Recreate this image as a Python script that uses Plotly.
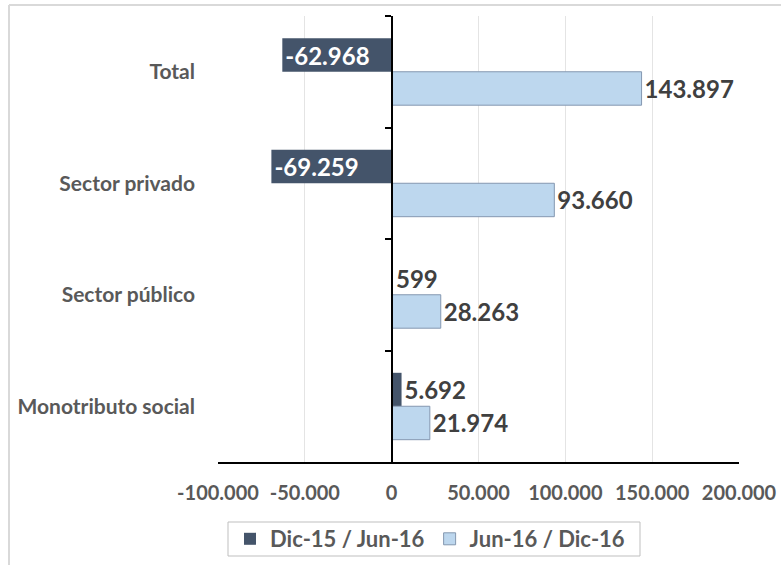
import plotly.graph_objects as go

categories = ["Total", "Sector privado", "Sector público", "Monotributo social"]
series1_name = "Dic-15 / Jun-16"
series1_values = [-62968, -69259, 599, 5692]
series2_name = "Jun-16 / Dic-16"
series2_values = [143897, 93660, 28263, 21974]
tick_values = [-100000, -50000, 0, 50000, 100000, 150000, 200000]
tick_labels = ["-100.000", "-50.000", "0", "50.000", "100.000", "150.000", "200.000"]


def fmt(v):
    s = f"{abs(v):,}".replace(",", ".")
    return ("-" if v < 0 else "") + s


FONT = "Lato"
GRAY = "#595959"
DARK = "#404040"

# plot-area geometry in pixels (for paper-coordinate decorations)
L, R, T, B = 218, 42, 16, 103
PW, PH = 781 - L - R, 565 - T - B


def px(xp):
    return (xp - L) / PW


def py(yp):
    return (565 - B - yp) / PH


fig = go.Figure()
fig.add_trace(go.Bar(
    name=series1_name, y=categories, x=series1_values, orientation="h",
    marker=dict(color="#44546A", line=dict(width=0)),
    text=[fmt(v) for v in series1_values],
    textposition=["inside" if v < 0 else "outside" for v in series1_values],
    insidetextanchor="end",
    insidetextfont=dict(color="white", size=24, family=FONT, weight="bold"),
    outsidetextfont=dict(color=DARK, size=24, family=FONT, weight="bold"),
    textfont=dict(size=24, family=FONT, weight="bold"),
    constraintext="none",
    cliponaxis=False,
))
fig.add_trace(go.Bar(
    name=series2_name, y=categories, x=series2_values, orientation="h",
    marker=dict(color="#BDD7EE", line=dict(width=1, color="#8497B0")),
    text=[fmt(v) for v in series2_values],
    textposition="outside",
    outsidetextfont=dict(color=DARK, size=24, family=FONT, weight="bold"),
    textfont=dict(size=24, family=FONT, weight="bold"),
    constraintext="none",
    cliponaxis=False,
))
# invisible helper trace to draw the category axis at zero
fig.add_trace(go.Scatter(
    y=categories, x=[0] * len(categories), yaxis="y2", mode="markers",
    marker=dict(opacity=0), showlegend=False, hoverinfo="skip",
))

fig.update_layout(
    width=781, height=565,
    margin=dict(l=L, r=R, t=T, b=B, autoexpand=False),
    paper_bgcolor="white", plot_bgcolor="white",
    barmode="group", bargap=0.4, bargroupgap=0,
    font=dict(family=FONT, color=GRAY),
    xaxis=dict(
        range=[-100000, 200000], tickvals=tick_values, ticktext=tick_labels,
        showgrid=True, gridcolor="#E4E4E4", gridwidth=1, automargin=False,
        zeroline=False, showline=True, linecolor="black", linewidth=2,
        ticks="", ticklabelstandoff=12,
        tickfont=dict(size=20, family=FONT, color=GRAY, weight="bold"),
    ),
    yaxis=dict(
        type="category", categoryarray=categories, autorange="reversed",
        showline=False, showgrid=False, ticks="", ticklabelstandoff=22, automargin=False,
        tickfont=dict(size=21, family=FONT, color=GRAY, weight="bold"),
    ),
    yaxis2=dict(
        type="category", categoryarray=categories, range=[3.5, -0.5],
        overlaying="y", anchor="free", position=1/3, side="left", automargin=False,
        showticklabels=False, showgrid=False, zeroline=False,
        showline=True, linecolor="black", linewidth=2,
        ticks="outside", tickson="boundaries", ticklen=6, tickwidth=2, tickcolor="black",
    ),
    legend=dict(
        orientation="h", x=px(430), xanchor="center", y=py(518), yanchor="top",
        borderwidth=0, bgcolor="rgba(0,0,0,0)",
        font=dict(size=22, family=FONT, color=GRAY, weight="bold"),
        itemwidth=30, traceorder="normal", tracegroupgap=0,
    ),
    shapes=[
        dict(type="line", xref="paper", yref="paper",
             x0=px(9), x1=px(781), y0=py(5), y1=py(5),
             line=dict(color="#D9D9D9", width=2)),
        dict(type="line", xref="paper", yref="paper",
             x0=px(9), x1=px(9), y0=py(5), y1=py(565),
             line=dict(color="#D9D9D9", width=2)),
        dict(type="rect", xref="paper", yref="paper",
             x0=px(228), x1=px(640), y0=py(522), y1=py(556),
             line=dict(color="#BFBFBF", width=1), fillcolor="rgba(0,0,0,0)"),
    ],
)

fig.write_html("out.html", config={"displayModeBar": False},
               post_script="document.body.style.margin='0';document.body.style.padding='0';")
